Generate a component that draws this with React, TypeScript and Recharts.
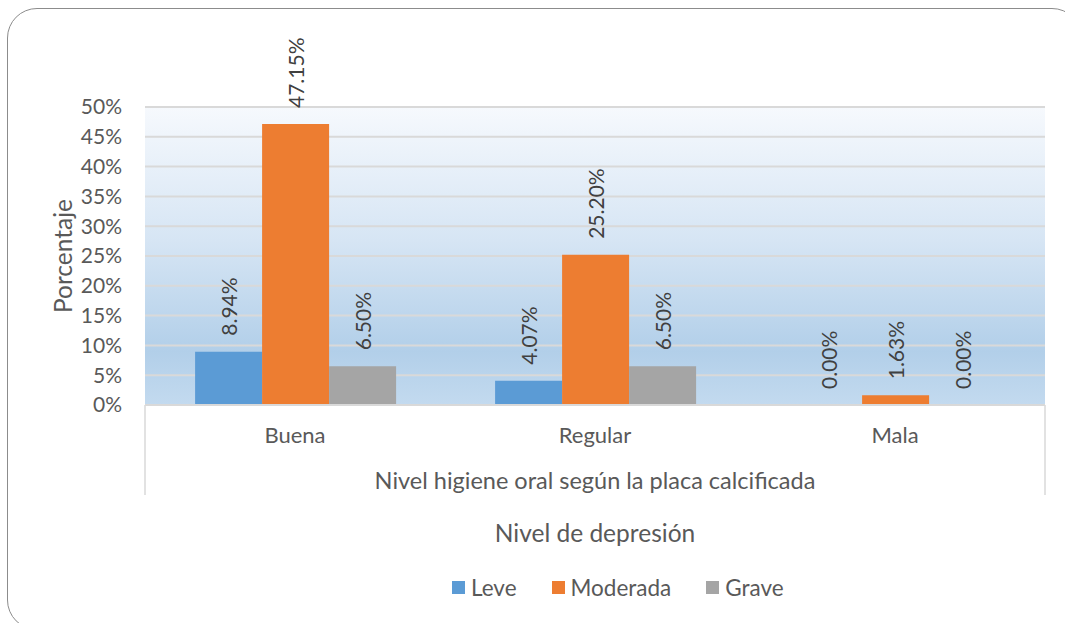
import React from 'react';
import { BarChart, Bar, XAxis, YAxis, CartesianGrid, Legend, LabelList } from 'recharts';

const categories = ['Buena', 'Regular', 'Mala'];
const leve = [0.0894, 0.0407, 0.0];
const moderada = [0.4715, 0.252, 0.0163];
const grave = [0.065, 0.065, 0.0];
const yTicks = [0, 0.05, 0.1, 0.15, 0.2, 0.25, 0.3, 0.35, 0.4, 0.45, 0.5];

const seriesList = [
  { key: 'leve', name: 'Leve', color: '#5b9bd5' },
  { key: 'moderada', name: 'Moderada', color: '#ed7d31' },
  { key: 'grave', name: 'Grave', color: '#a5a5a5' },
];

const data = categories.map((cat, i) => ({
  cat,
  leve: leve[i],
  moderada: moderada[i],
  grave: grave[i],
}));

const FONT = 'Lato, "Open Sans", sans-serif';
const TEXT = '#595959';

const pct = (v: number) => `${(v * 100).toFixed(2)}%`;

function BarValue(props: any) {
  const { x, y, width, value } = props;
  const cx = Number(x) + Number(width) / 2;
  const ty = Number(y) - 16;
  return (
    <text
      x={cx}
      y={ty}
      transform={`rotate(-90 ${cx} ${ty})`}
      textAnchor="start"
      dominantBaseline="central"
      fill="#404040"
      fontSize={21}
      fontFamily={FONT}
    >
      {pct(Number(value))}
    </text>
  );
}

function XAxisExtra(props: any) {
  const vb = props.viewBox || {};
  const x0 = vb.x;
  const x1 = vb.x + vb.width;
  const y0 = vb.y;
  return (
    <g>
      <line x1={x0} y1={y0} x2={x0} y2={y0 + 90} stroke="#d9d9d9" strokeWidth={1.5} />
      <line x1={x1} y1={y0} x2={x1} y2={y0 + 90} stroke="#d9d9d9" strokeWidth={1.5} />
      <text x={(x0 + x1) / 2} y={y0 + 84} textAnchor="middle" fill={TEXT} fontSize={23.5} fontFamily={FONT}>
        Nivel higiene oral según la placa calcificada
      </text>
      <text x={(x0 + x1) / 2} y={y0 + 137} textAnchor="middle" fill={TEXT} fontSize={24.5} fontFamily={FONT}>
        Nivel de depresión
      </text>
    </g>
  );
}

function YAxisTitle(props: any) {
  const vb = props.viewBox || {};
  const cx = 62;
  const cy = vb.y + vb.height / 2;
  return (
    <text
      x={cx}
      y={cy}
      transform={`rotate(-90 ${cx} ${cy})`}
      textAnchor="middle"
      dominantBaseline="central"
      fill={TEXT}
      fontSize={24.5}
      fontFamily={FONT}
    >
      Porcentaje
    </text>
  );
}

function LegendBox() {
  return (
    <div style={{ display: 'flex', alignItems: 'center', paddingLeft: 452, fontFamily: FONT, fontSize: 22.5, color: TEXT }}>
      {seriesList.map((s, i) => (
        <div key={s.key} style={{ display: 'flex', alignItems: 'center', marginRight: i < 2 ? 35 : 0 }}>
          <span style={{ width: 13, height: 13, background: s.color, display: 'inline-block', marginRight: 6 }} />
          <span>{s.name}</span>
        </div>
      ))}
    </div>
  );
}

export default function App() {
  return (
    <div style={{ position: 'absolute', left: 0, top: 0, width: 1065, height: 623, overflow: 'hidden', background: '#fff' }}>
      <div
        style={{
          position: 'absolute',
          left: 7,
          top: 8,
          width: 1075,
          height: 622,
          border: '1.5px solid #8c8c8c',
          borderRadius: 30,
          boxSizing: 'border-box',
        }}
      />
      <div style={{ position: 'absolute', left: 0, top: 0 }}>
        <BarChart
          width={1065}
          height={623}
          data={data}
          margin={{ top: 107, right: 20, bottom: 128, left: 80 }}
          barCategoryGap="16.7%"
          barGap={0}
        >
          <defs>
            <linearGradient id="plotBg" x1="0" y1="0" x2="0" y2="1">
              <stop offset="0%" stopColor="#f6f9fd" />
              <stop offset="45%" stopColor="#d6e5f4" />
              <stop offset="82%" stopColor="#b2cfe9" />
              <stop offset="100%" stopColor="#c3daef" />
            </linearGradient>
          </defs>
          <CartesianGrid vertical={false} stroke="#d9d9d9" strokeWidth={2} fill="url(#plotBg)" fillOpacity={1} />
          <XAxis
            dataKey="cat"
            height={90}
            tickLine={false}
            axisLine={{ stroke: '#d9d9d9', strokeWidth: 2 }}
            tickSize={0}
            tickMargin={22}
            tick={{ fill: TEXT, fontSize: 22, fontFamily: FONT }}
            label={<XAxisExtra />}
          />
          <YAxis
            width={65}
            domain={[0, 0.5]}
            ticks={yTicks}
            interval={0}
            tickLine={false}
            axisLine={false}
            tickSize={0}
            tickMargin={23}
            tick={{ fill: TEXT, fontSize: 21, fontFamily: FONT }}
            tickFormatter={(v: number) => `${Math.round(v * 100)}%`}
            label={<YAxisTitle />}
          />
          <Legend
            verticalAlign="middle"
            align="center"
            layout="horizontal"
            wrapperStyle={{ top: 574, left: 0, width: 1065 }}
            content={() => <LegendBox />}
          />
          {seriesList.map((s) => (
            <Bar key={s.key} dataKey={s.key} name={s.name} fill={s.color} minPointSize={0.01} isAnimationActive={false}>
              <LabelList dataKey={s.key} content={<BarValue />} />
            </Bar>
          ))}
        </BarChart>
      </div>
    </div>
  );
}
